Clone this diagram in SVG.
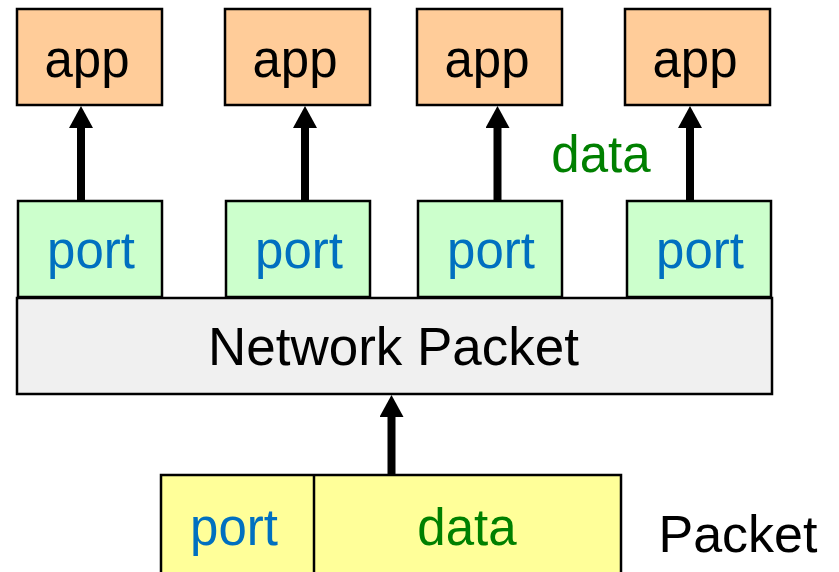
<svg xmlns="http://www.w3.org/2000/svg" width="839" height="572" viewBox="0 0 839 572">
  <style>
    .box { stroke: #000; stroke-width: 2.5; }
    .app { fill: #FFCC99; }
    .port { fill: #CCFFCC; }
    .net { fill: #F0F0F0; }
    .pkt { fill: #FFFF99; }
    text { font-family: "Liberation Sans", Arial, sans-serif; font-size: 51px; text-anchor: middle; }
    .black { fill: #000; }
    .blue { fill: #0070C0; }
    .green { fill: #008000; }
    .conn { stroke: #000; stroke-width: 8; fill: none; marker-end: url(#head); }
  </style>
  <defs>
    <marker id="head" markerUnits="userSpaceOnUse" viewBox="0 0 22 24" markerWidth="22" markerHeight="24" refX="0" refY="12" orient="auto">
      <path d="M0,0 L22,12 L0,24 Z" fill="#000"/>
    </marker>
  </defs>

  <!-- application boxes -->
  <g id="app1"><rect class="box app" x="17" y="9" width="145" height="96"/><text class="black" x="87" y="77">app</text></g>
  <g id="app2"><rect class="box app" x="225" y="9" width="145" height="96"/><text class="black" x="295" y="77">app</text></g>
  <g id="app3"><rect class="box app" x="417" y="9" width="145" height="96"/><text class="black" x="487" y="77">app</text></g>
  <g id="app4"><rect class="box app" x="625" y="9" width="145" height="96"/><text class="black" x="695" y="77">app</text></g>

  <!-- port boxes -->
  <g id="port1"><rect class="box port" x="18" y="201" width="144" height="96"/><text class="blue" x="91" y="268">port</text></g>
  <g id="port2"><rect class="box port" x="226" y="201" width="144" height="96"/><text class="blue" x="299" y="268">port</text></g>
  <g id="port3"><rect class="box port" x="418" y="201" width="144" height="96"/><text class="blue" x="491" y="268">port</text></g>
  <g id="port4"><rect class="box port" x="627" y="201" width="144" height="96"/><text class="blue" x="700" y="268">port</text></g>

  <!-- network layer -->
  <g id="network"><rect class="box net" x="17" y="298" width="755" height="96"/><text class="black" x="393.5" y="365" style="font-size:53px">Network Packet</text></g>

  <!-- incoming packet -->
  <g id="packet">
    <rect class="box pkt" x="161" y="475" width="460" height="120"/>
    <line x1="314" y1="475" x2="314" y2="572" stroke="#000" stroke-width="2.5"/>
    <text class="blue" x="234" y="545">port</text>
    <text class="green" x="467" y="545">data</text>
  </g>
  <g id="packet-label"><text class="black" x="738" y="552" style="font-size:52px">Packet</text></g>

  <!-- data label -->
  <g id="data-label"><text class="green" x="601" y="172">data</text></g>

  <!-- connectors -->
  <g id="connectors">
    <line class="conn" x1="81" y1="201" x2="81" y2="128"/>
    <line class="conn" x1="305" y1="201" x2="305" y2="128"/>
    <line class="conn" x1="497.5" y1="201" x2="497.5" y2="128"/>
    <line class="conn" x1="690" y1="201" x2="690" y2="128"/>
    <line class="conn" x1="391.5" y1="474" x2="391.5" y2="417"/>
  </g>
</svg>
